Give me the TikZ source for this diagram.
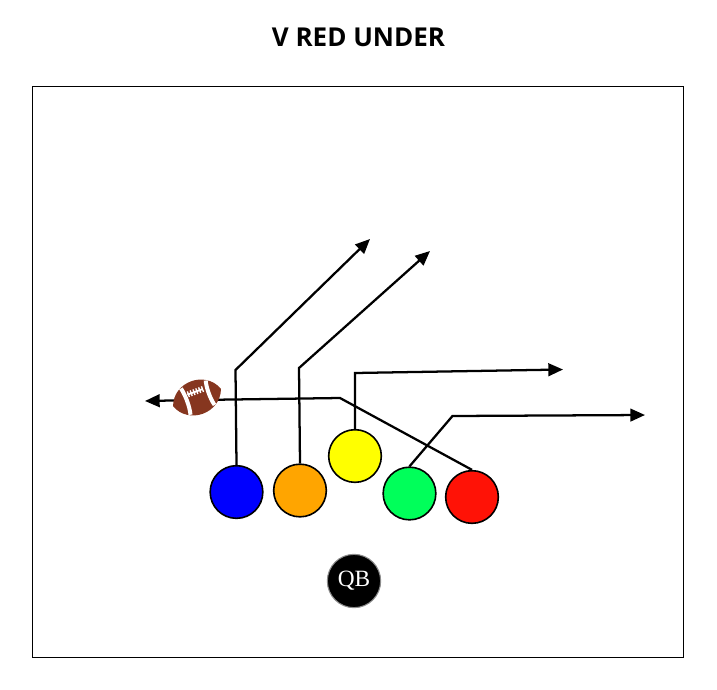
\documentclass[tikz,border=0pt]{standalone}
\usepackage{fontspec}
\setmainfont{Liberation Serif}
\newfontfamily\titlefont{Open Sans}
\usetikzlibrary{arrows.meta}
\usetikzlibrary{positioning}
\definecolor{ballbrown}{HTML}{86361F}
\definecolor{routeorange}{HTML}{FFA500}
\definecolor{routeyellow}{HTML}{FFFF00}
\definecolor{routeblue}{HTML}{0000FF}
\definecolor{routegreen}{HTML}{00FF5A}
\definecolor{routered}{HTML}{FF1206}
\tikzset{
  player/.style={circle,draw=black,line width=1.2pt,minimum size=39.5pt,inner sep=0pt},
  route/.style={line width=1.7pt,-{Triangle[length=11pt,width=9.5pt]}},
  stripe/.style={white,line width=3pt},
}
\begin{document}
\begin{tikzpicture}[x=0.75pt,y=-0.75pt]
	\useasboundingbox (0,0) rectangle (717,689);
	\node[font=\titlefont\bfseries\fontsize{19.5}{23}\selectfont] (title) at (358.5,37) {V RED UNDER};
	\draw[line width=0.75pt] (32.5,86.5) rectangle (683.5,657.5);
	% players
	\node[player,fill=routeblue] (blue) at (236.5,492) {};
	\node[player,fill=routeorange] (orange) at (300,490.5) {};
	\node[player,fill=routeyellow] (yellow) at (355,456) {};
	\node[player,fill=routegreen] (green) at (409.5,493.5) {};
	\node[player,fill=routered] (red) at (472,497) {};
	\node[circle,fill=black,draw=black!45,line width=0.8pt,minimum size=40pt,inner sep=0pt,text=white,font=\fontsize{17.5}{21}\selectfont] (qb) at (354,581) {QB};
	% routes
	\coordinate (bluebend) at (235.5,370);
	\coordinate (blueend) at (370,239);
	\coordinate (orangebend) at (299,368);
	\coordinate (orangeend) at (430,251);
	\coordinate (yellowbend) at (355,373);
	\coordinate (yellowend) at (563,369.5);
	\coordinate (greenbend) at (452.5,416);
	\coordinate (greenend) at (645,415);
	\coordinate (redbend) at (340,398);
	\coordinate (ball) at (197,400);
	\coordinate (redend) at (145,401);
	\draw[route] (blue.north) -- (bluebend) -- (blueend);
	\draw[route] (orange.north) -- (orangebend) -- (orangeend);
	\draw[route] (yellow.north) -- (yellowbend) -- (yellowend);
	\draw[route] (green.north) -- (greenbend) -- (greenend);
	\draw[route] (red.north) -- (redbend) -- (ball) -- (redend);
	% football
	\begin{scope}[shift={(197,397.5)},rotate=20]
		\fill[ballbrown] (-25.5,0) .. controls (-17,-23) and (17,-23) .. (25.5,0) .. controls (17,23) and (-17,23) .. (-25.5,0) -- cycle;
		\draw[stripe] (-12,-14) .. controls (-10,-6) and (-10,6) .. (-12,14);
		\draw[stripe] (14,-13) .. controls (12,-6) and (12,6) .. (14,13);
		\draw[white,line width=1.4pt] (-8,-6) -- (8,-6);
		\foreach \x in {-7,-4,-1,2,5,8}
		  \draw[white,line width=1pt] (\x,-9) -- (\x,-3);
	\end{scope}
\end{tikzpicture}
\end{document}
